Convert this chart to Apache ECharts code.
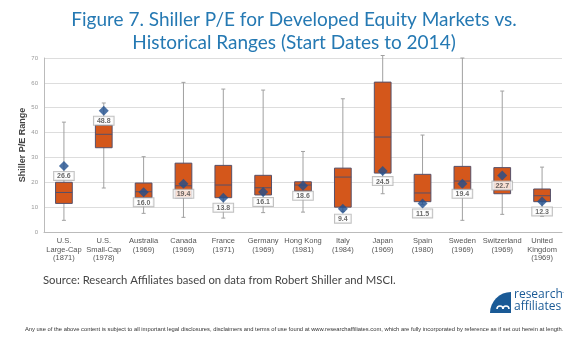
<!DOCTYPE html>
<html>
<head>
<meta charset="utf-8">
<script src="https://cdn.jsdelivr.net/npm/echarts@6/dist/echarts.min.js"></script>
<style>
html,body{margin:0;padding:0;background:#fff;}
#c{width:588px;height:338px;}
</style>
</head>
<body>
<div id="c"></div>
<script>
const categories = ['U.S.\nLarge-Cap\n(1871)','U.S.\nSmall-Cap\n(1978)','Australia\n(1969)','Canada\n(1969)','France\n(1971)','Germany\n(1969)','Hong Kong\n(1981)','Italy\n(1984)','Japan\n(1969)','Spain\n(1980)','Sweden\n(1969)','Switzerland\n(1969)','United\nKingdom\n(1969)'];
const whiskerLow  = [4.7, 17.7, 7.5, 5.9, 5.6, 7.8, 8.0, 8.3, 15.4, 11.0, 4.7, 7.1, 6.3];
const q1          = [11.5, 33.9, 13.8, 13.8, 13.8, 14.9, 16.5, 10.0, 23.7, 12.2, 17.1, 15.4, 12.2];
const median      = [15.9, 39.3, 16.2, 18.6, 18.9, 17.8, 18.9, 22.1, 38.2, 15.7, 20.5, 16.9, 14.6];
const q3          = [20.0, 43.0, 19.7, 27.7, 26.8, 22.8, 20.2, 25.7, 60.3, 23.2, 26.4, 25.9, 17.3];
const whiskerHigh = [44.2, 51.9, 30.3, 60.2, 57.5, 57.1, 32.4, 53.6, 71.0, 39.0, 70.0, 56.7, 26.1];
const current     = [26.6, 48.8, 16.0, 19.4, 13.8, 16.1, 18.6, 9.4, 24.5, 11.5, 19.4, 22.7, 12.3];
const yTicks = [0, 10, 20, 30, 40, 50, 60, 70];

const boxData = categories.map((c, i) => [i, whiskerLow[i], q1[i], median[i], q3[i], whiskerHigh[i]]);
const curData = categories.map((c, i) => [i, current[i]]);

const chart = echarts.init(document.getElementById('c'), null, {renderer: 'canvas'});
const option = {
  backgroundColor: '#ffffff',
  animation: false,
  title: {
    text: 'Figure 7. Shiller P/E for Developed Equity Markets vs.\nHistorical Ranges (Start Dates to 2014)',
    left: 'center', top: 3,
    textStyle: {fontFamily: 'Lato', fontSize: 19, fontWeight: 'normal', color: '#2579b3', lineHeight: 23}
  },
  grid: {left: 44, right: 26, top: 58, bottom: 106},
  xAxis: {
    type: 'category', data: categories,
    axisLine: {lineStyle: {color: '#bbbbbb'}},
    axisTick: {show: false},
    axisLabel: {interval: 0, fontFamily: 'Liberation Sans', fontSize: 7.5, color: '#555555', lineHeight: 8.5, margin: 5}
  },
  yAxis: {
    type: 'value', min: yTicks[0], max: yTicks[yTicks.length - 1], interval: 10,
    name: 'Shiller P/E Range', nameLocation: 'middle', nameGap: 17, nameMoveOverlap: false,
    nameTextStyle: {fontFamily: 'Liberation Sans', fontSize: 9, fontWeight: 'bold', color: '#444444'},
    axisLine: {show: true, lineStyle: {color: '#bbbbbb'}},
    axisTick: {show: false},
    axisLabel: {fontFamily: 'Liberation Sans', fontSize: 6, color: '#999999', margin: 6},
    splitLine: {lineStyle: {color: '#dddddd'}}
  },
  series: [
    {
      type: 'custom',
      data: boxData,
      z: 2,
      renderItem: function (params, api) {
        const idx = api.value(0);
        const band = api.size([1, 0])[0];
        const w = band * 0.42;
        const pLow = api.coord([idx, api.value(1)]);
        const pQ1 = api.coord([idx, api.value(2)]);
        const pMed = api.coord([idx, api.value(3)]);
        const pQ3 = api.coord([idx, api.value(4)]);
        const pHigh = api.coord([idx, api.value(5)]);
        const cx = pLow[0];
        const cap = 2;
        return {
          type: 'group',
          children: [
            {type: 'line', shape: {x1: cx, y1: pHigh[1], x2: cx, y2: pLow[1]}, style: {stroke: '#a0a0a0', lineWidth: 1}},
            {type: 'line', shape: {x1: cx - cap, y1: pHigh[1], x2: cx + cap, y2: pHigh[1]}, style: {stroke: '#a0a0a0', lineWidth: 1}},
            {type: 'line', shape: {x1: cx - cap, y1: pLow[1], x2: cx + cap, y2: pLow[1]}, style: {stroke: '#a0a0a0', lineWidth: 1}},
            {type: 'rect', shape: {x: cx - w / 2, y: pQ3[1], width: w, height: pQ1[1] - pQ3[1]}, style: {fill: '#d4571b', stroke: '#56506a', lineWidth: 1}},
            {type: 'line', shape: {x1: cx - w / 2, y1: pMed[1], x2: cx + w / 2, y2: pMed[1]}, style: {stroke: '#56506a', lineWidth: 1}}
          ]
        };
      }
    },
    {
      type: 'scatter',
      data: curData,
      symbol: 'diamond',
      symbolSize: [10, 10],
      z: 5,
      itemStyle: {color: '#1f4f8e'},
      label: {
        show: true, position: 'bottom', distance: 1,
        formatter: p => p.value[1].toFixed(1),
        fontFamily: 'Liberation Sans', fontSize: 7, fontWeight: 'bold', color: '#444444',
        backgroundColor: '#ffffff', borderColor: '#b0b0b0', borderWidth: 1, padding: [1, 3, 0, 3]
      }
    }
  ],
  graphic: [
    {type: 'text', left: 43, top: 275, style: {text: 'Source: Research Affiliates based on data from Robert Shiller and MSCI.', font: '11.3px Lato', fill: '#444444'}},
    {type: 'text', left: 25, top: 326, style: {text: 'Any use of the above content is subject to all important legal disclosures, disclaimers and terms of use found at www.researchaffiliates.com, which are fully incorporated by reference as if set out herein at length.', font: '5.8px "Liberation Sans"', fill: '#333333'}},
    {type: 'sector', shape: {cx: 511, cy: 313, r: 21, r0: 0, startAngle: Math.PI, endAngle: Math.PI * 1.5}, style: {fill: '#1a5a96'}},
    {type: 'arc', shape: {cx: 500, cy: 309, r: 3, startAngle: Math.PI, endAngle: 0}, style: {stroke: '#ffffff', lineWidth: 1.6, fill: null}},
    {type: 'arc', shape: {cx: 506, cy: 309, r: 3, startAngle: Math.PI, endAngle: 0}, style: {stroke: '#ffffff', lineWidth: 1.6, fill: null}},
    {type: 'text', left: 514, top: 289, style: {text: 'research', font: '12px "Open Sans"', fill: '#1a5a96'}},
    {type: 'text', left: 562, top: 289, style: {text: '\u00b7', font: '8px "Open Sans"', fill: '#1a5a96'}},
    {type: 'text', left: 514, top: 301, style: {text: 'affiliates', font: '12px "Open Sans"', fill: '#1a5a96'}}
  ]
};
chart.setOption(option);
</script>
</body>
</html>
